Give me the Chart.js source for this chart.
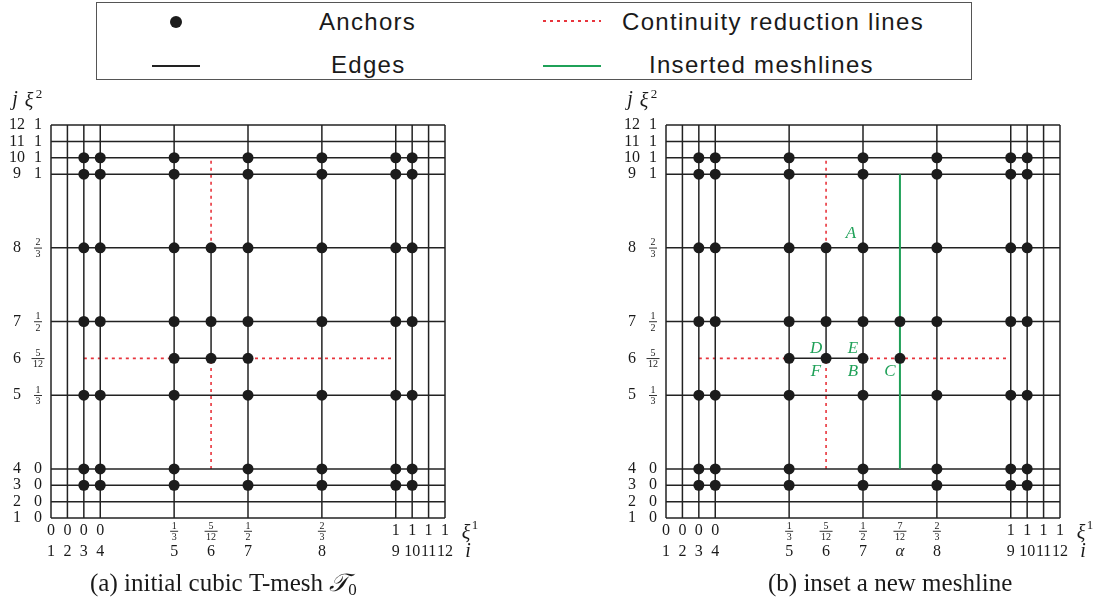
<!DOCTYPE html>
<html>
<head>
<meta charset="utf-8">
<title>Cubic T-mesh and meshline insertion</title>
<script src="https://cdn.jsdelivr.net/npm/chart.js@4.4.1/dist/chart.umd.min.js"></script>
<style>
  html, body { margin: 0; padding: 0; background: #fff; }
  #figure { position: relative; width: 1099px; height: 603px; overflow: hidden; }
  #figure canvas { position: absolute; top: 0; }
  #meshA { left: 0; }
  #meshB { left: 549px; }
  .key-box { position: absolute; left: 96px; top: 2px; width: 876px; height: 78px; box-sizing: border-box; border: 1px solid #555; }
  .key-text { position: absolute; font-family: "Liberation Sans", Arial, sans-serif; font-size: 24px; letter-spacing: 1.3px;
              color: #1a1a1a; line-height: 28px; height: 28px; white-space: nowrap; }
  .key-dot { position: absolute; width: 12px; height: 12px; border-radius: 50%; background: #1c1c1c; }
  .key-line { position: absolute; }
</style>
</head>
<body>
<div id="figure">
  <div class="key-box"></div>
  <div class="key-dot" style="left:170px; top:16px"></div>
  <div class="key-text" style="left:319px; top:8px">Anchors</div>
  <div class="key-line" style="left:152px; top:65px; width:48px; height:1.5px; background:#222"></div>
  <div class="key-text" style="left:331px; top:51px">Edges</div>
  <div class="key-line" style="left:543px; top:20px; width:58px; height:2px; background:repeating-linear-gradient(90deg,#e8343c 0 3px,transparent 3px 7px)"></div>
  <div class="key-text" style="left:622px; top:8px">Continuity reduction lines</div>
  <div class="key-line" style="left:543px; top:65px; width:58px; height:2px; background:#1fa158"></div>
  <div class="key-text" style="left:649px; top:51px">Inserted meshlines</div>
  <canvas id="meshA" width="550" height="603"></canvas>
  <canvas id="meshB" width="550" height="603"></canvas>
</div>

<script>
// Knot indices j and the xi^2 value carried by each horizontal knot line
const jKnots   = ['1','2','3','4','5','6','7','8','9','10','11','12'];
const xi2Knots = ['0','0','0','0','1/3','5/12','1/2','2/3','1','1','1','1'];

// Knot indices i and xi^1 values, before and after the insertion at 7/12
const iKnotsA   = ['1','2','3','4','5','6','7','8','9','10','11','12'];
const xi1KnotsA = ['0','0','0','0','1/3','5/12','1/2','2/3','1','1','1','1'];
const iKnotsB   = ['1','2','3','4','5','6','7','α','8','9','10','11','12'];
const xi1KnotsB = ['0','0','0','0','1/3','5/12','1/2','7/12','2/3','1','1','1','1'];

// Schematic mesh coordinate of every knot line (repeated knots one unit apart)
const jCoord  = [0, 1, 2, 3, 7.5, 9.75, 12, 16.5, 21, 22, 23, 24];
const iCoordA = [0, 1, 2, 3, 7.5, 9.75, 12, 16.5, 21, 22, 23, 24];
const iCoordB = [0, 1, 2, 3, 7.5, 9.75, 12, 14.25, 16.5, 21, 22, 23, 24];

// Edges of the T-mesh: [fixed knot, from knot, to knot]
const hEdges = [
  ['1','1','12'], ['2','1','12'], ['3','1','12'], ['4','1','12'], ['5','1','12'], ['6','5','7'],
  ['7','1','12'], ['8','1','12'], ['9','1','12'], ['10','1','12'], ['11','1','12'], ['12','1','12']
];
const vEdges = [
  ['1','1','12'], ['2','1','12'], ['3','1','12'], ['4','1','12'], ['5','1','12'], ['6','6','8'],
  ['7','1','12'], ['8','1','12'], ['9','1','12'], ['10','1','12'], ['11','1','12'], ['12','1','12']
];

// Continuity reduction lines extending the two T-junction edges
const hReduction = [['6','3','5'], ['6','7','9']];
const vReduction = [['6','4','6'], ['6','8','10']];

// Meshline inserted at xi^1 = 7/12
const vInserted = [['α','4','9']];

// Anchors row by row: [j, indices i]
const anchorsA = [
  ['3',  ['3','4','5','7','8','9','10']],
  ['4',  ['3','4','5','7','8','9','10']],
  ['5',  ['3','4','5','7','8','9','10']],
  ['6',  ['5','6','7']],
  ['7',  ['3','4','5','6','7','8','9','10']],
  ['8',  ['3','4','5','6','7','8','9','10']],
  ['9',  ['3','4','5','7','8','9','10']],
  ['10', ['3','4','5','7','8','9','10']]
];
const anchorsB = [
  ['3',  ['3','4','5','7','8','9','10']],
  ['4',  ['3','4','5','7','8','9','10']],
  ['5',  ['3','4','5','7','8','9','10']],
  ['6',  ['5','6','7','α']],
  ['7',  ['3','4','5','6','7','α','8','9','10']],
  ['8',  ['3','4','5','6','7','8','9','10']],
  ['9',  ['3','4','5','7','8','9','10']],
  ['10', ['3','4','5','7','8','9','10']]
];

// Named vertices around the new meshline: [name, i, j, side]
const vertexNames = [
  ['A', '7', '8', 'nnw'], ['D', '6', '6', 'nw'], ['E', '7', '6', 'nw'],
  ['F', '6', '6', 'sw'],  ['B', '7', '6', 'sw'], ['C', 'α', '6', 'sw']
];

const SERIF = '"Liberation Serif", "Times New Roman", serif';
const INK = '#222222';
const RED = '#e8343c';
const GREEN = '#1fa158';

function pos(keys, coords, key) { return coords[keys.indexOf(key)]; }

function segmentSets(list, horizontal, iKeys, iCoord, style, order) {
  return list.map(([fix, from, to]) => {
    const data = horizontal
      ? [{ x: pos(iKeys, iCoord, from), y: pos(jKnots, jCoord, fix) },
         { x: pos(iKeys, iCoord, to),   y: pos(jKnots, jCoord, fix) }]
      : [{ x: pos(iKeys, iCoord, fix),  y: pos(jKnots, jCoord, from) },
         { x: pos(iKeys, iCoord, fix),  y: pos(jKnots, jCoord, to) }];
    return Object.assign({
      data, showLine: true, pointRadius: 0, pointHoverRadius: 0,
      fill: false, clip: false, tension: 0, order
    }, style);
  });
}

function knotValue(ctx, text, cx, cy) {
  if (text.includes('/')) {
    const [n, d] = text.split('/');
    ctx.font = `10px ${SERIF}`;
    const w = Math.max(ctx.measureText(n).width, ctx.measureText(d).width) + 3;
    ctx.fillText(n, cx, cy - 5);
    ctx.fillText(d, cx, cy + 6.5);
    ctx.fillRect(cx - w / 2, cy - 0.2, w, 0.9);
  } else {
    ctx.font = `16px ${SERIF}`;
    ctx.fillText(text, cx, cy);
  }
}

function knotIndex(ctx, text, cx, cy) {
  ctx.font = /^\d+$/.test(text) ? `16px ${SERIF}` : `italic 17px ${SERIF}`;
  ctx.fillText(text, cx, cy);
}

function labelPlugin(panel) {
  return {
    id: 'meshLabels',
    afterDraw(chart) {
      const { ctx, chartArea: { left, right, top, bottom }, scales: { x, y } } = chart;
      ctx.save();
      ctx.fillStyle = '#1a1a1a';
      ctx.textAlign = 'center';
      ctx.textBaseline = 'middle';

      // vertical axis: index j and xi^2
      jKnots.forEach((k, n) => {
        const py = y.getPixelForValue(jCoord[n]);
        knotIndex(ctx, k, left - 34, py);
        knotValue(ctx, xi2Knots[n], left - 13, py);
      });
      // horizontal axis: xi^1 and index i
      panel.iKnots.forEach((k, n) => {
        const px = x.getPixelForValue(panel.iCoord[n]);
        knotValue(ctx, panel.xi1[n], px, bottom + 13);
        knotIndex(ctx, k, px, bottom + 34);
      });

      // axis names
      ctx.font = `italic 20px ${SERIF}`;
      ctx.fillText('j', left - 36, top - 25);
      ctx.fillText('ξ', left - 22, top - 23);
      ctx.fillText('ξ', right + 21, bottom + 16);
      ctx.fillText('i', right + 23, bottom + 34);
      ctx.font = `13px ${SERIF}`;
      ctx.fillText('2', left - 12, top - 30);
      ctx.fillText('1', right + 30, bottom + 8);

      // named vertices
      const shift = { nw: [-10, -10], nnw: [-12, -14], sw: [-10, 13.5] };
      ctx.fillStyle = GREEN;
      ctx.font = `italic 17px ${SERIF}`;
      (panel.names || []).forEach(([name, i, j, side]) => {
        const px = x.getPixelForValue(pos(panel.iKnots, panel.iCoord, i));
        const py = y.getPixelForValue(pos(jKnots, jCoord, j));
        ctx.fillText(name, px + shift[side][0], py + shift[side][1]);
      });

      // caption
      ctx.fillStyle = '#1a1a1a';
      ctx.textAlign = 'left';
      ctx.textBaseline = 'alphabetic';
      let cx = left + panel.captionLeft;
      ctx.font = `25px ${SERIF}`;
      ctx.fillText(panel.caption[0], cx, 591);
      cx += ctx.measureText(panel.caption[0]).width;
      if (panel.caption.length > 1) {
        ctx.font = `italic 25px "DejaVu Serif", "DejaVu Sans", ${SERIF}`;
        ctx.fillText(panel.caption[1], cx, 591);
        cx += ctx.measureText(panel.caption[1]).width;
        ctx.font = `17px ${SERIF}`;
        ctx.fillText(panel.caption[2], cx, 595);
      }
      ctx.restore();
    }
  };
}

function buildPanel(canvasId, panel) {
  const red = { borderColor: RED, borderWidth: 1.6, borderDash: [3, 4], borderCapStyle: 'butt' };
  const black = { borderColor: INK, borderWidth: 1.5 };
  const green = { borderColor: GREEN, borderWidth: 2 };
  const datasets = [
    {
      label: 'Anchors',
      data: panel.anchors.flatMap(([j, is]) => is.map(i => ({
        x: pos(panel.iKnots, panel.iCoord, i), y: pos(jKnots, jCoord, j)
      }))),
      showLine: false, pointRadius: 5.5, pointHoverRadius: 5.5,
      pointBackgroundColor: '#1c1c1c', pointBorderWidth: 0, clip: false, order: 0
    },
    ...segmentSets(panel.inserted || [], false, panel.iKnots, panel.iCoord, green, 1),
    ...segmentSets(hEdges, true, panel.iKnots, panel.iCoord, black, 2),
    ...segmentSets(vEdges, false, panel.iKnots, panel.iCoord, black, 2),
    ...segmentSets(hReduction, true, panel.iKnots, panel.iCoord, red, 3),
    ...segmentSets(vReduction, false, panel.iKnots, panel.iCoord, red, 3)
  ];
  return new Chart(document.getElementById(canvasId), {
    type: 'scatter',
    data: { datasets },
    options: {
      responsive: false,
      animation: false,
      events: [],
      layout: { padding: panel.padding },
      scales: {
        x: { type: 'linear', min: 0, max: 24, display: false },
        y: { type: 'linear', min: 0, max: 24, display: false }
      },
      plugins: { legend: { display: false }, tooltip: { enabled: false } }
    },
    plugins: [labelPlugin(panel)]
  });
}

buildPanel('meshA', {
  iKnots: iKnotsA, xi1: xi1KnotsA, iCoord: iCoordA,
  anchors: anchorsA,
  caption: ['(a) initial cubic T-mesh ', '𝒯', '0'], captionLeft: 39,
  padding: { left: 51, right: 105, top: 125, bottom: 85 }
});

buildPanel('meshB', {
  iKnots: iKnotsB, xi1: xi1KnotsB, iCoord: iCoordB,
  anchors: anchorsB, inserted: vInserted, names: vertexNames,
  caption: ['(b) inset a new meshline'], captionLeft: 102,
  padding: { left: 117, right: 39, top: 125, bottom: 85 }
});
</script>
</body>
</html>
